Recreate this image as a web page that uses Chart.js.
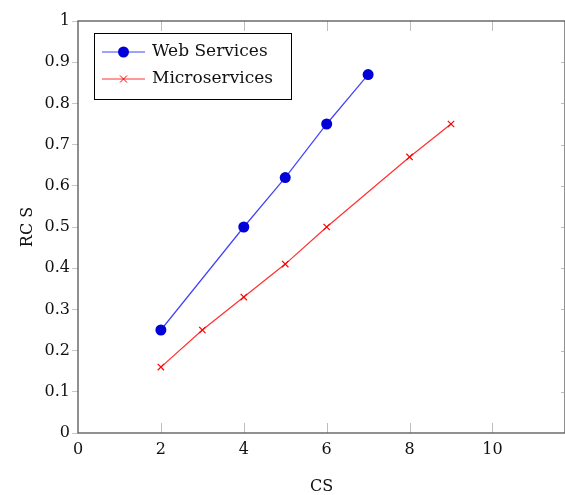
<!DOCTYPE html>
<html>
<head>
<meta charset="utf-8">
<script src="https://cdn.jsdelivr.net/npm/chart.js@4"></script>
<style>
html,body{margin:0;padding:0;background:#fff;}
#wrap{width:565px;height:495px;}
</style>
</head>
<body>
<div id="wrap"><canvas id="c" width="565" height="495"></canvas></div>
<script>
const webX = [2, 4, 5, 6, 7];
const webY = [0.25, 0.5, 0.62, 0.75, 0.87];
const microX = [2, 3, 4, 5, 6, 8, 9];
const microY = [0.16, 0.25, 0.33, 0.41, 0.5, 0.67, 0.75];
const xTicks = [0, 2, 4, 6, 8, 10];
const yTicks = [0, 0.1, 0.2, 0.3, 0.4, 0.5, 0.6, 0.7, 0.8, 0.9, 1];
const seriesNames = ['Web Services', 'Microservices'];
const xTitle = 'CS';
const yTitle = 'RC S';

const FONT = 'DejaVu Serif';

const frame = {
  id: 'frame',
  afterDatasetsDraw(chart) {
    const {ctx, chartArea: a, scales: {x, y}} = chart;
    ctx.save();
    ctx.strokeStyle = '#bdbdbd';
    ctx.lineWidth = 1;
    ctx.beginPath();
    xTicks.forEach(v => {
      if (v === 0) return;
      const px = Math.round(x.getPixelForValue(v)) + 0.5;
      ctx.moveTo(px, a.bottom); ctx.lineTo(px, a.bottom - 10);
      ctx.moveTo(px, a.top); ctx.lineTo(px, a.top + 10);
    });
    yTicks.forEach(v => {
      if (v === 0 || v === 1) return;
      const py = Math.round(y.getPixelForValue(v)) + 0.5;
      ctx.moveTo(a.right - 1, py); ctx.lineTo(a.right - 4, py);
    });
    ctx.stroke();
    ctx.strokeStyle = '#555';
    ctx.lineWidth = 1.3;
    ctx.strokeRect(a.left, a.top, a.right - a.left, a.bottom - a.top);
    ctx.restore();
  }
};

const legendBox = {
  id: 'legendBox',
  afterDraw(chart) {
    const {ctx} = chart;
    const ds = chart.data.datasets;
    ctx.save();
    ctx.fillStyle = '#fff';
    ctx.fillRect(94.5, 33.5, 197, 66);
    ctx.strokeStyle = '#000';
    ctx.lineWidth = 1;
    ctx.strokeRect(94.5, 33.5, 197, 66);
    ds.forEach((d, i) => {
      const cy = 52 + i * 27;
      ctx.strokeStyle = d.borderColor;
      ctx.lineWidth = 1;
      ctx.beginPath(); ctx.moveTo(102, cy); ctx.lineTo(145, cy); ctx.stroke();
      if (d.pointStyle === 'circle') {
        ctx.fillStyle = d.pointBackgroundColor;
        ctx.beginPath(); ctx.arc(123.5, cy, 5.5, 0, Math.PI * 2); ctx.fill();
      } else {
        ctx.strokeStyle = d.pointBorderColor;
        ctx.beginPath();
        ctx.moveTo(120, cy - 3.5); ctx.lineTo(127, cy + 3.5);
        ctx.moveTo(127, cy - 3.5); ctx.lineTo(120, cy + 3.5);
        ctx.stroke();
      }
      ctx.fillStyle = '#111';
      ctx.font = '17px "' + FONT + '"';
      ctx.textBaseline = 'middle';
      ctx.fillText(d.label, 152, cy);
    });
    ctx.restore();
  }
};

new Chart(document.getElementById('c'), {
  type: 'line',
  data: {
    datasets: [
      {
        label: seriesNames[0],
        data: webX.map((v, i) => ({x: v, y: webY[i]})),
        borderColor: '#4040ff',
        borderWidth: 1.2,
        pointStyle: 'circle',
        pointRadius: 5.5,
        pointBackgroundColor: '#0000d8',
        pointBorderColor: '#0000d8',
        pointBorderWidth: 0,
        tension: 0
      },
      {
        label: seriesNames[1],
        data: microX.map((v, i) => ({x: v, y: microY[i]})),
        borderColor: '#ff3030',
        borderWidth: 1.2,
        pointStyle: 'crossRot',
        pointRadius: 4.5,
        pointBorderColor: '#ff0000',
        pointBackgroundColor: '#ff0000',
        pointBorderWidth: 1.2,
        tension: 0
      }
    ]
  },
  options: {
    responsive: false,
    animation: false,
    layout: {autoPadding: false, padding: {top: 21, right: 0, left: 0, bottom: 0}},
    plugins: {legend: {display: false}, tooltip: {enabled: false}},
    scales: {
      x: {
        type: 'linear',
        min: 0,
        max: 11.75,
        afterBuildTicks: s => { s.ticks = xTicks.map(v => ({value: v})); },
        afterFit: s => { s.height = 62; s.paddingLeft = 0; s.paddingRight = 0; },
        border: {display: false},
        grid: {display: false, drawTicks: false},
        ticks: {
          font: {family: FONT, size: 16},
          color: '#111',
          padding: 7,
          maxRotation: 0,
          callback: v => String(v)
        },
        title: {
          display: true,
          text: xTitle,
          font: {family: FONT, size: 16, lineHeight: 1},
          color: '#111',
          padding: {top: 0, bottom: 0}
        }
      },
      y: {
        type: 'linear',
        min: 0,
        max: 1,
        afterBuildTicks: s => { s.ticks = yTicks.map(v => ({value: v})); },
        afterFit: s => { s.width = 78; s.paddingTop = 0; s.paddingBottom = 0; },
        border: {display: false},
        grid: {display: true, drawOnChartArea: false, drawTicks: true, tickLength: 6, color: '#c8c8c8'},
        ticks: {
          font: {family: FONT, size: 16},
          color: '#111',
          padding: 2,
          callback: v => (v === 0 || v === 1) ? String(v) : v.toFixed(1)
        },
        title: {
          display: true,
          text: yTitle,
          font: {family: FONT, size: 16},
          color: '#111',
          padding: {top: 18, bottom: 0}
        }
      }
    }
  },
  plugins: [frame, legendBox]
});
</script>
</body>
</html>
